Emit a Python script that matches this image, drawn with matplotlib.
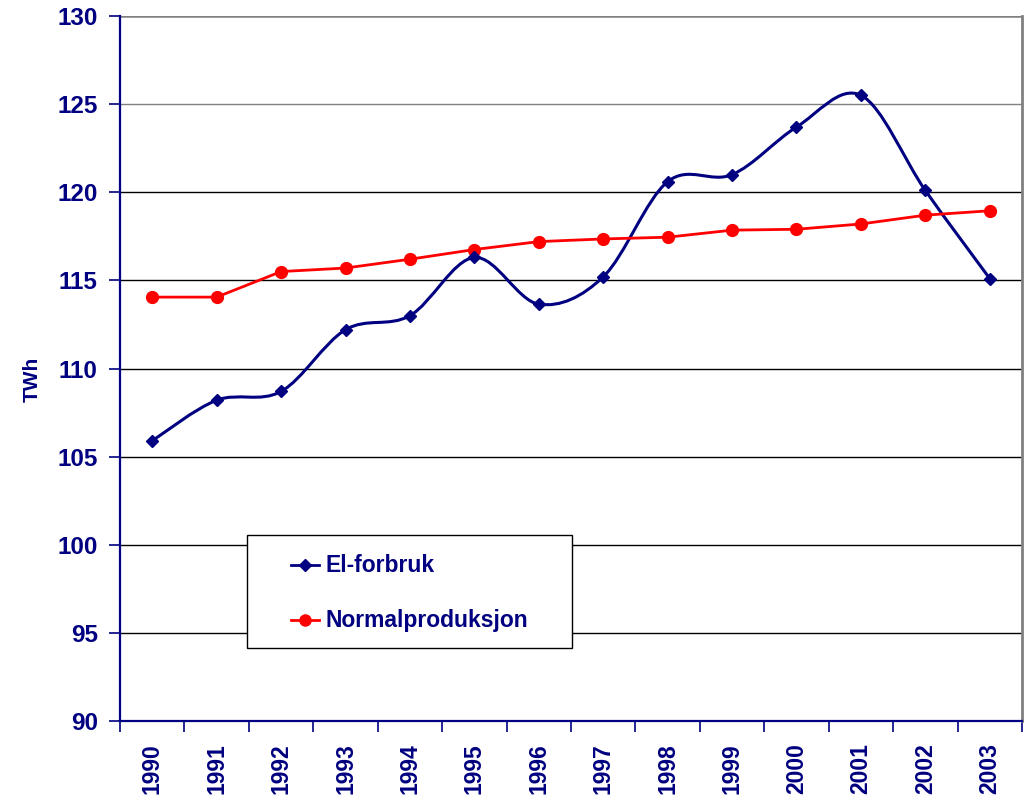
"""
El-forbruk og normalproduksjon, 1990-2003
"""

import matplotlib
matplotlib.use("Agg")
import matplotlib.pyplot as plt
import numpy as np
from matplotlib.lines import Line2D
from matplotlib.path import Path
from matplotlib.patches import PathPatch, Rectangle

years = ["1990", "1991", "1992", "1993", "1994", "1995", "1996",
         "1997", "1998", "1999", "2000", "2001", "2002", "2003"]
el_forbruk = [105.9, 108.2, 108.7, 112.2, 113.0, 116.3, 113.65,
              115.2, 120.6, 121.0, 123.7, 125.5, 120.1, 115.1]
normalproduksjon = [114.05, 114.05, 115.5, 115.7, 116.2, 116.75, 117.2,
                    117.35, 117.45, 117.85, 117.9, 118.2, 118.7, 118.95]
y_ticks = [90, 95, 100, 105, 110, 115, 120, 125, 130]
series_names = ["El-forbruk", "Normalproduksjon"]

NAVY = "#000080"
RED = "#ff0000"

plt.rcParams["font.family"] = ["Liberation Sans", "DejaVu Sans"]
plt.rcParams["font.weight"] = "bold"


def smooth_path(xs, ys):
    """Excel-like smoothed line as cubic bezier path"""
    pts = np.column_stack([xs, ys]).astype(float)
    n = len(pts)
    verts = [pts[0]]
    codes = [Path.MOVETO]
    for i in range(n - 1):
        p0 = pts[max(i - 1, 0)]
        p1 = pts[i]
        p2 = pts[i + 1]
        p3 = pts[min(i + 2, n - 1)]
        c1 = p1 + (p2 - p0) / 6.0
        c2 = p2 - (p3 - p1) / 6.0
        verts += [c1, c2, p2]
        codes += [Path.CURVE4] * 3
    return Path(verts, codes)


fig = plt.figure(figsize=(10.32, 8), dpi=100)
ax = fig.add_axes([0.1163, 0.09875, 0.874, 0.88125])

x = np.arange(len(years))

# gridlines
for v in y_ticks[1:]:
    col = "#808080" if v >= 125 else "black"
    ax.axhline(v, color=col, lw=1.0 if v < 130 else 1.8, zorder=1)

# El-forbruk: smoothed curve with diamond markers
ax.add_patch(PathPatch(smooth_path(x, el_forbruk), fill=False,
                       edgecolor=NAVY, lw=2.2, zorder=3))
ax.plot(x, el_forbruk, ls="none", marker="D", ms=6.5, color=NAVY, zorder=4)

# Normalproduksjon
ax.plot(x, normalproduksjon, color=RED, lw=2.0, marker="o", ms=8.5, zorder=3)

ax.set_xlim(-0.5, len(years) - 0.5)
ax.set_ylim(90, 130)

ax.set_yticks(y_ticks)
ax.set_yticklabels([str(v) for v in y_ticks], fontsize=17.5, color=NAVY,
                   fontweight="bold")
ax.set_xticks(x)
ax.set_xticklabels(years, rotation=90, fontsize=16.5, color=NAVY,
                   fontweight="bold")
ax.set_xticks(np.arange(-0.5, len(years)), minor=True)
ax.tick_params(axis="x", which="major", length=0, pad=16)
ax.tick_params(axis="x", which="minor", length=8, color=NAVY, width=1.2)
ax.tick_params(axis="y", length=8, color=NAVY, width=1.2, pad=8)

ax.set_ylabel("TWh", fontsize=15, color=NAVY, fontweight="bold")
ax.yaxis.set_label_coords(-0.087, 0.485)

for side in ["left", "bottom"]:
    ax.spines[side].set_color(NAVY)
    ax.spines[side].set_linewidth(1.6)
ax.spines["right"].set_color("#808080")
ax.spines["right"].set_linewidth(2.0)
ax.spines["top"].set_visible(False)

# legend box drawn by hand (axes coordinates)
W, H = 902.0, 705.0


def ax_pt(px, py):
    return (px - 120) / W, (721 - py) / H


bx, by = ax_pt(247, 648)
ax.add_patch(Rectangle((bx, by), 325 / W, 113 / H, transform=ax.transAxes,
                       facecolor="white", edgecolor="black", lw=1.0,
                       zorder=5))
legend_styles = [dict(color=NAVY, marker="D", ms=6),
                 dict(color=RED, marker="o", ms=8)]
for name, style, row_y in zip(series_names, legend_styles, [565, 620]):
    x0, y0 = ax_pt(291, row_y)
    x1, _ = ax_pt(319, row_y)
    ax.add_line(Line2D([x0, x1], [y0, y0], lw=2, color=style["color"],
                       transform=ax.transAxes, zorder=6))
    ax.add_line(Line2D([(x0 + x1) / 2], [y0], ls="none",
                       transform=ax.transAxes, zorder=6, **style))
    tx, _ = ax_pt(325, row_y)
    ax.text(tx, y0, name, transform=ax.transAxes, fontsize=16.5,
            color=NAVY, fontweight="bold", va="center", ha="left", zorder=6)

fig.savefig("out.png", dpi=100)
